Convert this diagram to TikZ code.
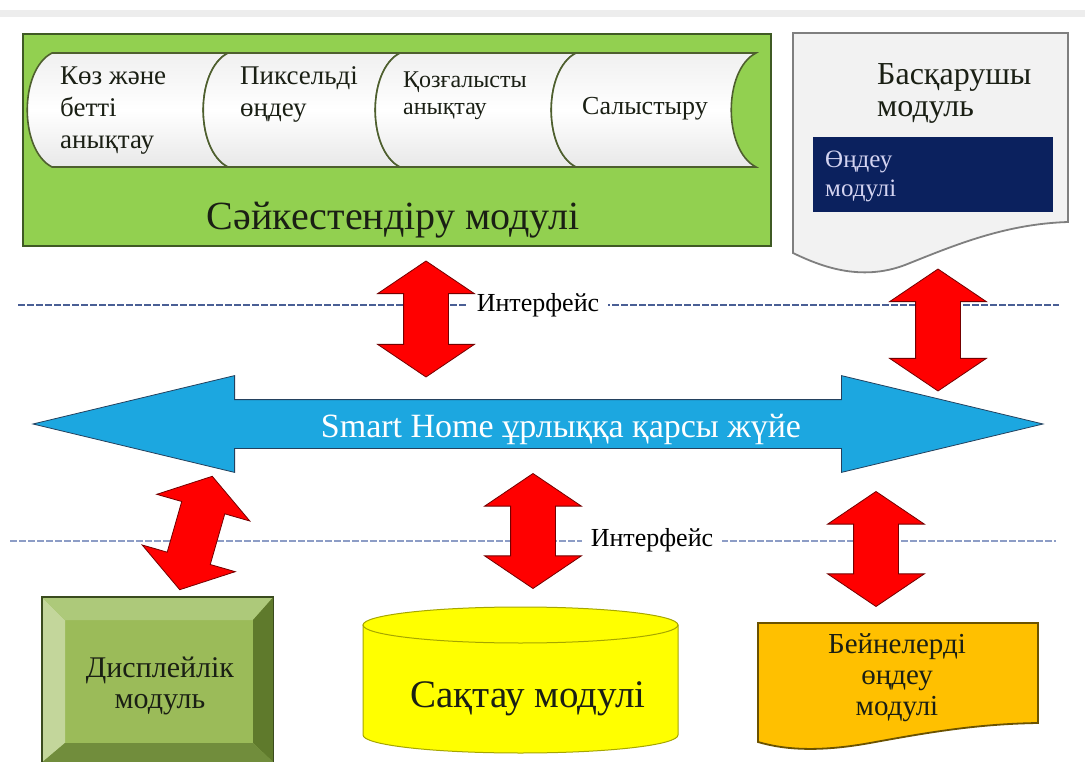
\documentclass[tikz,border=0pt]{standalone}
\usepackage{fontspec}
\setmainfont{Liberation Serif}
\usetikzlibrary{shapes.arrows,positioning}
\definecolor{matchgreen}{HTML}{92D050}
\definecolor{matchedge}{HTML}{3F5A24}
\definecolor{segedge}{HTML}{4E5F2E}
\definecolor{docgray}{HTML}{F2F2F2}
\definecolor{docedge}{HTML}{7F7F7F}
\definecolor{procblue}{HTML}{0B215E}
\definecolor{proctext}{HTML}{D3D3F0}
\definecolor{sysblue}{HTML}{1CA7E0}
\definecolor{sysedge}{HTML}{24415E}
\definecolor{ifacetop}{HTML}{4A5F95}
\definecolor{ifacebot}{HTML}{8D9DC6}
\definecolor{dispface}{HTML}{9BBB59}
\definecolor{displight}{HTML}{C3D69B}
\definecolor{disptop}{HTML}{ADC97A}
\definecolor{dispdark}{HTML}{5F7A2C}
\definecolor{dispbot}{HTML}{718D3C}
\definecolor{dispedge}{HTML}{3A4B1E}
\definecolor{storeyellow}{HTML}{FFFF00}
\definecolor{storeedge}{HTML}{A6A600}
\definecolor{imgorange}{HTML}{FFC000}
\definecolor{imgedge}{HTML}{6B5200}
\definecolor{darktext}{HTML}{1A1F14}
\tikzset{
  redarr/.style={double arrow, draw=red!45!black, fill=red, line width=0.8pt,
    inner sep=0pt, inner ysep=22pt, minimum width=96pt,
    double arrow head extend=26pt, double arrow tip angle=112},
  iface/.style={fill=white, inner xsep=9pt, inner ysep=2pt, font=\fontsize{26}{28}\selectfont},
  ifaceline/.style={line width=2.2pt, dash pattern=on 7pt off 2pt},
  seg/.style={draw=segedge, line width=1.6pt, top color=gray!12, bottom color=gray!18, middle color=white},
  txt/.style={inner sep=0pt, align=left, text=darktext},
}
\newcommand{\segpath}[2]{(#1+25,53) .. controls (#1-8,70) and (#1-8,150) .. (#1+25,167) -- (#2+25,167) .. controls (#2-8,150) and (#2-8,70) .. (#2+25,53) -- cycle}

\begin{document}
\begin{tikzpicture}[x=1pt, y=-1pt]
    \useasboundingbox (0,0) rectangle (1085,762);
    \fill[white] (0,0) rectangle (1085,762);
    \fill[gray!14] (0,10) rectangle (1085,17);

    % matching module
    \node[fill=matchgreen, draw=matchedge, line width=2pt, minimum width=748pt, minimum height=212pt,
          anchor=north west, inner sep=0pt] (match_box) at (22,33) {};
    \path[seg] \segpath{27}{203};
    \path[seg] \segpath{203}{375};
    \path[seg] \segpath{375}{551};
    \path[seg] \segpath{551}{731};

    \node[txt, anchor=base west, font=\fontsize{27}{32}\selectfont] (seg_eye) at (60,149) {Көз және\\бетті\\анықтау};
    \node[txt, anchor=base west, font=\fontsize{27}{32}\selectfont] (seg_pix) at (240,117) {Пиксельді\\өңдеу};
    \node[txt, anchor=base west, font=\fontsize{24}{27}\selectfont] (seg_mot) at (403,115) {Қозғалысты\\анықтау};
    \node[txt, anchor=base west, font=\fontsize{26}{28}\selectfont] (seg_cmp) at (582,115) {Салыстыру};
    \node[anchor=base, inner sep=0pt, text=darktext, font=\fontsize{40}{40}\selectfont] (match_txt) at (393,230) {Сәйкестендіру модулі};

    % control module
    \draw[draw=docedge, fill=docgray, line width=1.8pt] (793,33) -- (1068,33) -- (1068,222)
        .. controls (1005,224) and (955,245) .. (905,265) .. controls (860,282) and (820,266) .. (793,253) -- cycle;
    \node[txt, anchor=base west, font=\fontsize{32}{32}\selectfont] (ctrl_txt) at (877,117) {Басқарушы\\модуль};
    \node[fill=procblue, minimum width=240pt, minimum height=75pt, anchor=north west, inner sep=0pt] (proc_box) at (813,137) {};
    \node[txt, anchor=north west, text=proctext, font=\fontsize{25}{29}\selectfont,
          below right=14pt and 12pt of proc_box.north west] (proc_txt) {Өңдеу\\модулі};

    % interface lines
    \coordinate (if_top_l) at (18,305);
    \coordinate (if_top_r) at (1059,305);
    \coordinate (if_bot_l) at (10,541);
    \coordinate (if_bot_r) at (1056,541);
    \draw[ifaceline, ifacetop] (if_top_l) -- (if_top_r);
    \draw[ifaceline, ifacebot] (if_bot_l) -- (if_bot_r);
    \node[iface] (iface_top) at (538,305) {Интерфейс};
    \node[iface] (iface_bot) at (652,540) {Интерфейс};

    % system bus
    \node[double arrow, fill=sysblue, draw=sysedge, line width=0.8pt, minimum height=1010pt, minimum width=96pt,
          double arrow head extend=24pt, double arrow tip angle=27, inner sep=0pt, inner ysep=24pt] (sys_arrow) at (538,424) {};
    \node[anchor=base, inner sep=0pt, text=white, font=\fontsize{34}{34}\selectfont] (sys_txt) at (561,437) {Smart Home ұрлыққа қарсы жүйе};

    \node[redarr, minimum height=116pt, rotate=90] (arr_match) at (426,319) {};
    \node[redarr, minimum height=122pt, rotate=90] (arr_ctrl) at (938,330) {};
    \node[redarr, minimum height=118pt, rotate=74] (arr_disp) at (196,533) {};
    \node[redarr, minimum height=115pt, rotate=90] (arr_store) at (533,531) {};
    \node[redarr, minimum height=115pt, rotate=90] (arr_img) at (876,549) {};

    % display module
    \node[fill=dispface, minimum width=231pt, minimum height=165pt, anchor=north west, inner sep=0pt] (disp_box) at (42,597) {};
    \fill[displight] (disp_box.north west) -- (65,620) -- (65,743) -- (disp_box.south west) -- cycle;
    \fill[disptop] (disp_box.north west) -- (disp_box.north east) -- (253,620) -- (65,620) -- cycle;
    \fill[dispdark] (disp_box.north east) -- (disp_box.south east) -- (253,743) -- (253,620) -- cycle;
    \fill[dispbot] (disp_box.south west) -- (65,743) -- (253,743) -- (disp_box.south east) -- cycle;
    \draw[dispedge, line width=1.5pt] (disp_box.north west) rectangle (disp_box.south east);
    \node[txt, align=center, anchor=base, font=\fontsize{30}{31}\selectfont] (disp_txt) at (160,708) {Дисплейлік\\модуль};

    % storage module
    \draw[draw=storeedge, fill=storeyellow, line width=1pt] (363,625) -- (363,735)
        .. controls (363,745) and (433,753) .. (520.5,753) .. controls (608,753) and (678,745) .. (678,735) -- (678,625) -- cycle;
    \draw[draw=storeedge, fill=storeyellow, line width=1pt] (520.5,625) ellipse [x radius=157.5, y radius=18];
    \node[anchor=base, inner sep=0pt, text=darktext, font=\fontsize{39}{39}\selectfont] (store_txt) at (528,707) {Сақтау модулі};

    % image processing module
    \draw[draw=imgedge, fill=imgorange, line width=1.8pt] (758,623) -- (1038,623) -- (1038,723)
        .. controls (975,724) and (925,733) .. (870,743) .. controls (820,752) and (785,750) .. (758,742) -- cycle;
    \node[txt, align=center, anchor=base, font=\fontsize{29}{31}\selectfont] (img_txt) at (897,715) {Бейнелерді\\өңдеу\\модулі};
\end{tikzpicture}
\end{document}
